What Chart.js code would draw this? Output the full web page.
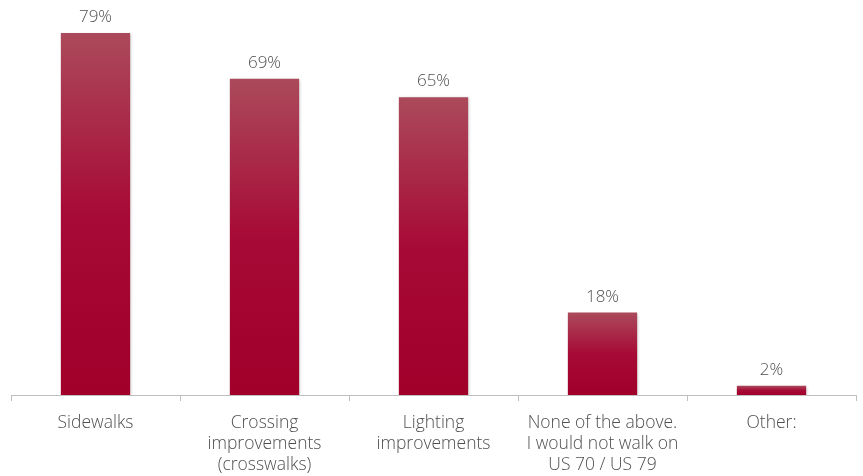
<!DOCTYPE html>
<html>
<head>
<meta charset="utf-8">
<script src="https://cdn.jsdelivr.net/npm/chart.js@4/dist/chart.umd.min.js"></script>
<style>
html,body{margin:0;padding:0;background:#fff;}
#wrap{width:863px;height:476px;}
</style>
</head>
<body>
<div id="wrap"><canvas id="c" width="863" height="476"></canvas></div>
<script>
const categories = ["Sidewalks", ["Crossing","improvements","(crosswalks)"], ["Lighting","improvements"], ["None of the above.","I would not walk on","US 70 / US 79"], "Other:"];
const values = [79, 69, 65, 18, 2];
const valueLabels = ["79%", "69%", "65%", "18%", "2%"];

const textColor = "#4F4F4F";
const fontFamily = "'Open Sans', Lato, sans-serif";

function barGradient(ctx) {
  const chart = ctx.chart;
  const ys = chart.scales && chart.scales.y;
  if (!chart.chartArea || !ys || ctx.raw === undefined) return "#A3062F";
  const top = ys.getPixelForValue(ctx.raw);
  const base = ys.getPixelForValue(0);
  if (!isFinite(top) || !isFinite(base) || base - top < 1) return "#A3062F";
  const g = chart.ctx.createLinearGradient(0, top, 0, base);
  g.addColorStop(0, "#AB4A5B");
  g.addColorStop(0.5, "#A70A36");
  g.addColorStop(1, "#A0002A");
  return g;
}

const labelPlugin = {
  id: "valueLabels",
  afterDatasetsDraw(chart) {
    const c = chart.ctx;
    const meta = chart.getDatasetMeta(0);
    c.save();
    c.fillStyle = textColor;
    c.font = "300 17px " + fontFamily;
    c.textAlign = "center";
    c.textBaseline = "bottom";
    meta.data.forEach((bar, i) => {
      c.fillText(valueLabels[i], bar.x, bar.y - 7);
    });
    c.restore();
  }
};

const shadowPlugin = {
  id: "barShadow",
  beforeDatasetsDraw(chart) {
    const c = chart.ctx;
    c.save();
    c.shadowColor = "rgba(0,0,0,0.25)";
    c.shadowBlur = 3;
    c.shadowOffsetX = 1;
    c.shadowOffsetY = 1;
  },
  afterDatasetsDraw(chart) {
    chart.ctx.restore();
  }
};

new Chart(document.getElementById("c"), {
  type: "bar",
  data: {
    labels: categories,
    datasets: [{
      data: values,
      backgroundColor: barGradient,
      borderWidth: 0,
      categoryPercentage: 1.0,
      barPercentage: 0.41
    }]
  },
  options: {
    responsive: false,
    animation: false,
    layout: { padding: { left: 11, right: 7, top: 0, bottom: 0 } },
    plugins: { legend: { display: false }, tooltip: { enabled: false } },
    scales: {
      y: {
        display: false,
        min: 0,
        max: 86.2
      },
      x: {
        afterFit(scale) { scale.height = 81; },
        grid: {
          display: true,
          offset: true,
          drawOnChartArea: false,
          drawTicks: true,
          tickLength: 6,
          color: "#BFBFBF",
          lineWidth: 1
        },
        border: { display: true, color: "#BFBFBF", width: 1 },
        ticks: {
          color: textColor,
          font: { family: fontFamily, size: 17.5, weight: 300, lineHeight: "21px" },
          padding: 12,
          maxRotation: 0,
          autoSkip: false
        }
      }
    }
  },
  plugins: [shadowPlugin, labelPlugin]
});
</script>
</body>
</html>
